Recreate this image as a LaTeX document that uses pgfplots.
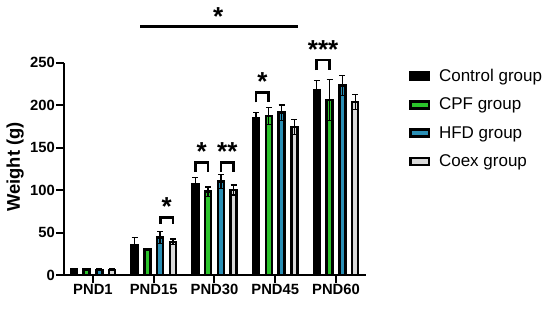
\documentclass[border=0pt]{standalone}
\usepackage{fontspec}
\setmainfont{Liberation Sans}
\usepackage{pgfplots}
\pgfplotsset{compat=1.18}
\definecolor{cpf}{HTML}{2BC42B}
\definecolor{hfd}{HTML}{2A8FB5}
\definecolor{coex}{HTML}{DADADA}

% mean and +/- error, categories at 0..4 (PND1..PND60)
\pgfplotstableread{
x  y     e
0  6.5   1
1  35    9
2  107   8
3  184   7
4  217   11.5
}\ctrl
\pgfplotstableread{
x  y     e
0  7     1
1  30    1.5
2  98    5.5
3  187   10
4  206   24
}\cpf
\pgfplotstableread{
x  y     e
0  6     1
1  44    7
2  110   8
3  191   9
4  223   12
}\hfd
\pgfplotstableread{
x  y     e
0  6     1
1  39    3.5
2  100   6
3  174   9
4  203.5 8.5
}\coex

\pgfplotsset{eb/.style={error bars/.cd, y dir=both, y explicit,
    error bar style={line width=1.3pt, black},
    error mark options={rotate=90, mark size=3pt, line width=1.3pt, black}}}

\begin{document}
\begin{tikzpicture}[x=1pt,y=1pt]
\path[use as bounding box] (0,0) rectangle (550,309);
\begin{axis}[
  at={(64pt,34pt)}, anchor=south west,
  scale only axis, width=302pt, height=212.5pt,
  xmin=-0.477, xmax=4.494, ymin=0, ymax=250,
  axis x line*=bottom, axis y line*=left,
  axis line style={line width=2pt, -},
  clip=false,
  ybar, bar width=6pt,
  xtick={0,...,4}, xticklabels={PND1,PND15,PND30,PND45,PND60},
  ytick={0,50,...,250},
  tick align=outside, major tick length=7.5pt,
  tick style={line width=2pt, black},
  /pgf/number format/assume math mode=true,
  ticklabel style={font=\bfseries\fontsize{14.8}{18}\selectfont},
  yticklabel style={inner sep=1.5pt},
  xticklabel style={inner sep=1.5pt},
  ylabel={\bfseries Weight (g)},
  every axis y label/.style={at={(axis description cs:-0.162,0.508)}, rotate=90,
    anchor=center, font=\fontsize{18.4}{20}\selectfont},
  every axis plot/.append style={draw=black, line width=2.5pt},
  legend image code/.code={\draw[#1, draw=black, line width=2.5pt] (0pt,-3.5pt) rectangle (18.5pt,3.5pt);},
  legend cell align=left,
  legend style={draw=none, fill=none, at={(1.132,0.988)}, anchor=north west,
    row sep=11pt, font=\fontsize{17}{19}\selectfont,
    nodes={inner xsep=9pt}},
]
\addplot[fill=black, bar shift=-19.2pt, eb] table[x=x, y=y, y error=e] {\ctrl};
\addplot[fill=cpf, bar shift=-6.4pt, eb] table[x=x, y=y, y error=e] {\cpf};
\addplot[fill=hfd, bar shift=6.4pt, eb] table[x=x, y=y, y error=e] {\hfd};
\addplot[fill=coex, bar shift=19.2pt, eb] table[x=x, y=y, y error=e] {\coex};
\legend{Control group, CPF group, HFD group, Coex group}

% significance marks
\tikzset{star/.style={font=\bfseries\fontsize{26}{26}\selectfont, anchor=base, yshift=-15pt, inner sep=0pt},
  brk/.style={line width=2.8pt, black}}
\draw[line width=3pt] (axis cs:0.774,292) -- (axis cs:3.374,292);
\node[star] at (axis cs:2.06,311) {*};
\draw[brk] (axis cs:1.106,60) -- (axis cs:1.106,68) -- (axis cs:1.318,68) -- (axis cs:1.318,60);
\node[star] at (axis cs:1.212,88) {*};
\draw[brk] (axis cs:1.682,121) -- (axis cs:1.682,132) -- (axis cs:1.894,132) -- (axis cs:1.894,121);
\node[star] at (axis cs:1.788,152) {*};
\draw[brk] (axis cs:2.106,121) -- (axis cs:2.106,132) -- (axis cs:2.318,132) -- (axis cs:2.318,121);
\node[star] at (axis cs:2.212,152) {**};
\draw[brk] (axis cs:2.682,203) -- (axis cs:2.682,215) -- (axis cs:2.894,215) -- (axis cs:2.894,203);
\node[star] at (axis cs:2.788,235) {*};
\draw[brk] (axis cs:3.682,241) -- (axis cs:3.682,253) -- (axis cs:3.894,253) -- (axis cs:3.894,241);
\node[star] at (axis cs:3.788,272) {***};
\end{axis}
\end{tikzpicture}
\end{document}
